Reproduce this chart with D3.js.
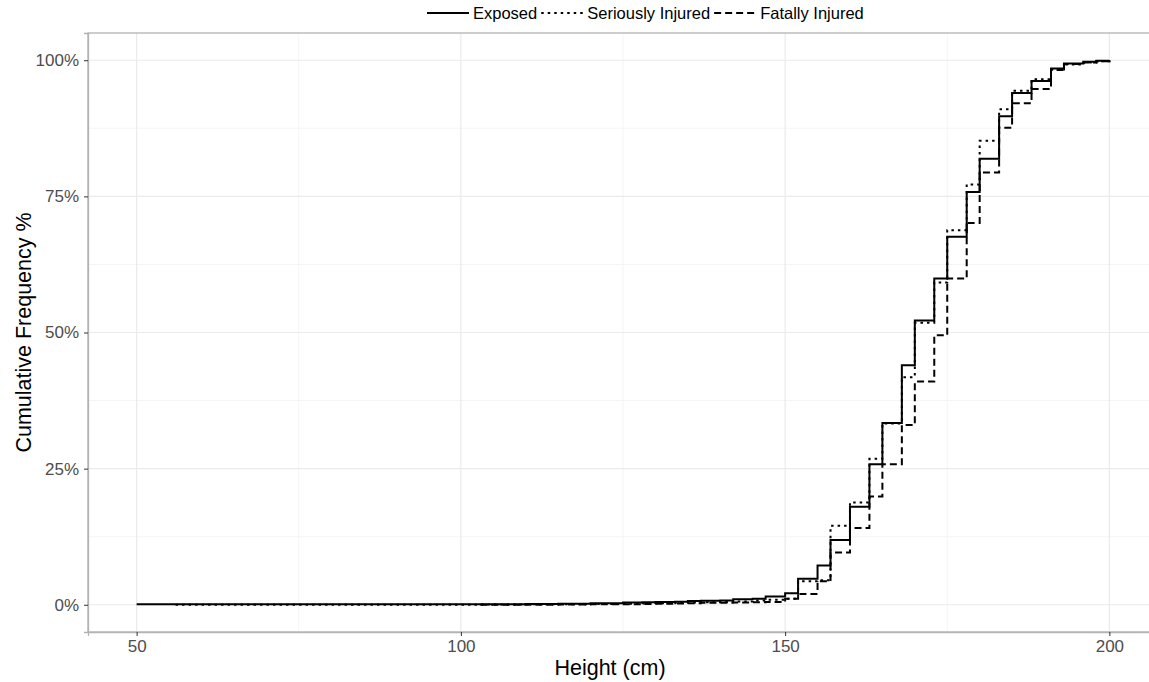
<html>
  <head>
    <title>Cumulative Frequency by Height</title>
    <style>
      body { margin: 0; background: #fff; }
      svg { font-family: "Liberation Sans", Arial, sans-serif; }
    </style>
  </head>
  <body>
    <div id="vis"></div>
    <script src="https://d3js.org/d3.v7.min.js"></script>
    <script>
      // step points (height in cm) shared by all three groups
      const heights = [50, 56, 66, 100, 103, 110, 115, 120, 125, 128, 130, 133, 135, 137, 140, 142, 145, 147,
                       150, 152, 155, 157, 160, 163, 165, 168, 170, 173, 175, 178, 180, 183, 185, 188, 191, 193, 196, 198, 200]
      // cumulative frequency in %, null = group has no observation yet
      const exposed = [0.1, 0.1, 0.1, 0.1, 0.1, 0.15, 0.2, 0.3, 0.4, 0.45, 0.5, 0.55, 0.7, 0.75, 0.8, 1.0, 1.1, 1.5,
                       2.1, 4.8, 7.2, 11.9, 18.0, 25.8, 33.4, 44.0, 52.2, 59.9, 67.6, 75.8, 81.9, 89.7, 94.0, 96.2, 98.5, 99.4, 99.7, 99.9, 100]
      const seriously = [null, 0, 0, 0, 0.05, 0.1, 0.1, 0.15, 0.2, 0.25, 0.3, 0.35, 0.4, 0.45, 0.5, 0.6, 0.8, 0.9,
                       1.1, 4.3, 4.5, 14.5, 18.8, 26.8, 33.3, 41.8, 51.8, 59.2, 68.8, 77.2, 85.2, 91.0, 94.4, 96.5, 98.3, 99.2, 99.6, 99.8, 100]
      const fatally = [null, null, null, null, 0, 0, 0.05, 0.1, 0.1, 0.15, 0.2, 0.25, 0.3, 0.35, 0.35, 0.4, 0.45, 0.5,
                       1.1, 2.0, 4.3, 9.6, 14.1, 19.9, 25.8, 33.0, 41.0, 49.5, 59.9, 70.1, 79.4, 87.6, 92.1, 94.7, 98.2, 99.3, 99.6, 99.8, 100]

      const seriesNames = ['Exposed', 'Seriously Injured', 'Fatally Injured']
      const xTicks = [50, 100, 150, 200]
      const xMinor = [75, 125, 175]
      const yTicks = [0, 25, 50, 75, 100]
      const yMinor = [12.5, 37.5, 62.5, 87.5]

      const W = 1149, H = 682
      const pLeft = 88, pRight = 1158, pTop = 33, pBottom = 632

      const x = d3.scaleLinear().domain([42.5, 207.5]).range([pLeft, pRight])
      const y = d3.scaleLinear().domain([-5, 105]).range([pBottom, pTop])

      const svg = d3.select('#vis').append('svg').attr('width', W).attr('height', H)

      const plot = svg.append('g')
      plot.append('clipPath').attr('id', 'clip')
        .append('rect').attr('x', pLeft).attr('y', pTop).attr('width', pRight - pLeft).attr('height', pBottom - pTop)

      // grid
      const grid = plot.append('g')
      grid.selectAll('.xminor').data(xMinor).join('line')
        .attr('x1', d => x(d)).attr('x2', d => x(d)).attr('y1', pTop).attr('y2', pBottom)
        .attr('stroke', '#f5f5f5').attr('stroke-width', 1)
      grid.selectAll('.yminor').data(yMinor).join('line')
        .attr('y1', d => y(d)).attr('y2', d => y(d)).attr('x1', pLeft).attr('x2', pRight)
        .attr('stroke', '#f5f5f5').attr('stroke-width', 1)
      grid.selectAll('.xmajor').data(xTicks).join('line')
        .attr('x1', d => x(d)).attr('x2', d => x(d)).attr('y1', pTop).attr('y2', pBottom)
        .attr('stroke', '#ebebeb').attr('stroke-width', 1.2)
      grid.selectAll('.ymajor').data(yTicks).join('line')
        .attr('y1', d => y(d)).attr('y2', d => y(d)).attr('x1', pLeft).attr('x2', pRight)
        .attr('stroke', '#ebebeb').attr('stroke-width', 1.2)

      // panel border
      plot.append('rect').attr('x', pLeft).attr('y', pTop).attr('width', pRight - pLeft).attr('height', pBottom - pTop)
        .attr('fill', 'none').attr('stroke', '#b3b3b3').attr('stroke-width', 1.3)

      // step lines
      const dashes = ['none', '2.5,4', '7,4']
      const groups = [exposed, seriously, fatally]
      const line = d3.line()
        .defined(d => d[1] !== null)
        .x(d => x(d[0]))
        .y(d => y(d[1]))
        .curve(d3.curveStepAfter)

      groups.forEach((vals, i) => {
        plot.append('path')
          .datum(heights.map((h, j) => [h, vals[j]]))
          .attr('clip-path', 'url(#clip)')
          .attr('d', line)
          .attr('fill', 'none')
          .attr('stroke', '#000')
          .attr('stroke-width', 2)
          .attr('stroke-dasharray', dashes[i])
      })

      // axes
      const xAxis = svg.append('g').attr('transform', 'translate(0,' + pBottom + ')')
        .call(d3.axisBottom(x).tickValues(xTicks).tickSize(4).tickPadding(4))
      const yAxis = svg.append('g').attr('transform', 'translate(' + pLeft + ',0)')
        .call(d3.axisLeft(y).tickValues(yTicks).tickSize(4).tickPadding(5).tickFormat(d => d + '%'))
      ;[xAxis, yAxis].forEach(a => {
        a.select('.domain').attr('stroke', '#b3b3b3').attr('stroke-width', 1.3)
        a.selectAll('.tick line').attr('stroke', '#333').attr('stroke-width', 1)
        a.selectAll('.tick text').attr('fill', '#4d4d4d').attr('font-size', 17)
          .style('font-family', '"Liberation Sans", Arial, sans-serif')
      })

      // axis titles
      svg.append('text').attr('x', (pLeft + pRight) / 2 - 13).attr('y', 675)
        .attr('text-anchor', 'middle').attr('font-size', 21.5).attr('fill', '#000').text('Height (cm)')
      svg.append('text').attr('transform', 'translate(31,' + ((pTop + pBottom) / 2) + ') rotate(-90)')
        .attr('text-anchor', 'middle').attr('font-size', 21.5).attr('fill', '#000').text('Cumulative Frequency %')

      // legend, laid out left to right from measured text widths
      const legend = svg.append('g')
      let lx = 427
      seriesNames.forEach((name, i) => {
        legend.append('line')
          .attr('x1', lx).attr('x2', lx + 42).attr('y1', 13).attr('y2', 13)
          .attr('stroke', '#000').attr('stroke-width', 2).attr('stroke-dasharray', dashes[i])
        const t = legend.append('text').attr('x', lx + 46).attr('y', 19)
          .attr('font-size', 16.5).attr('fill', '#000').text(name)
        lx += 46 + t.node().getComputedTextLength() + 4
      })
    </script>
  </body>
</html>
